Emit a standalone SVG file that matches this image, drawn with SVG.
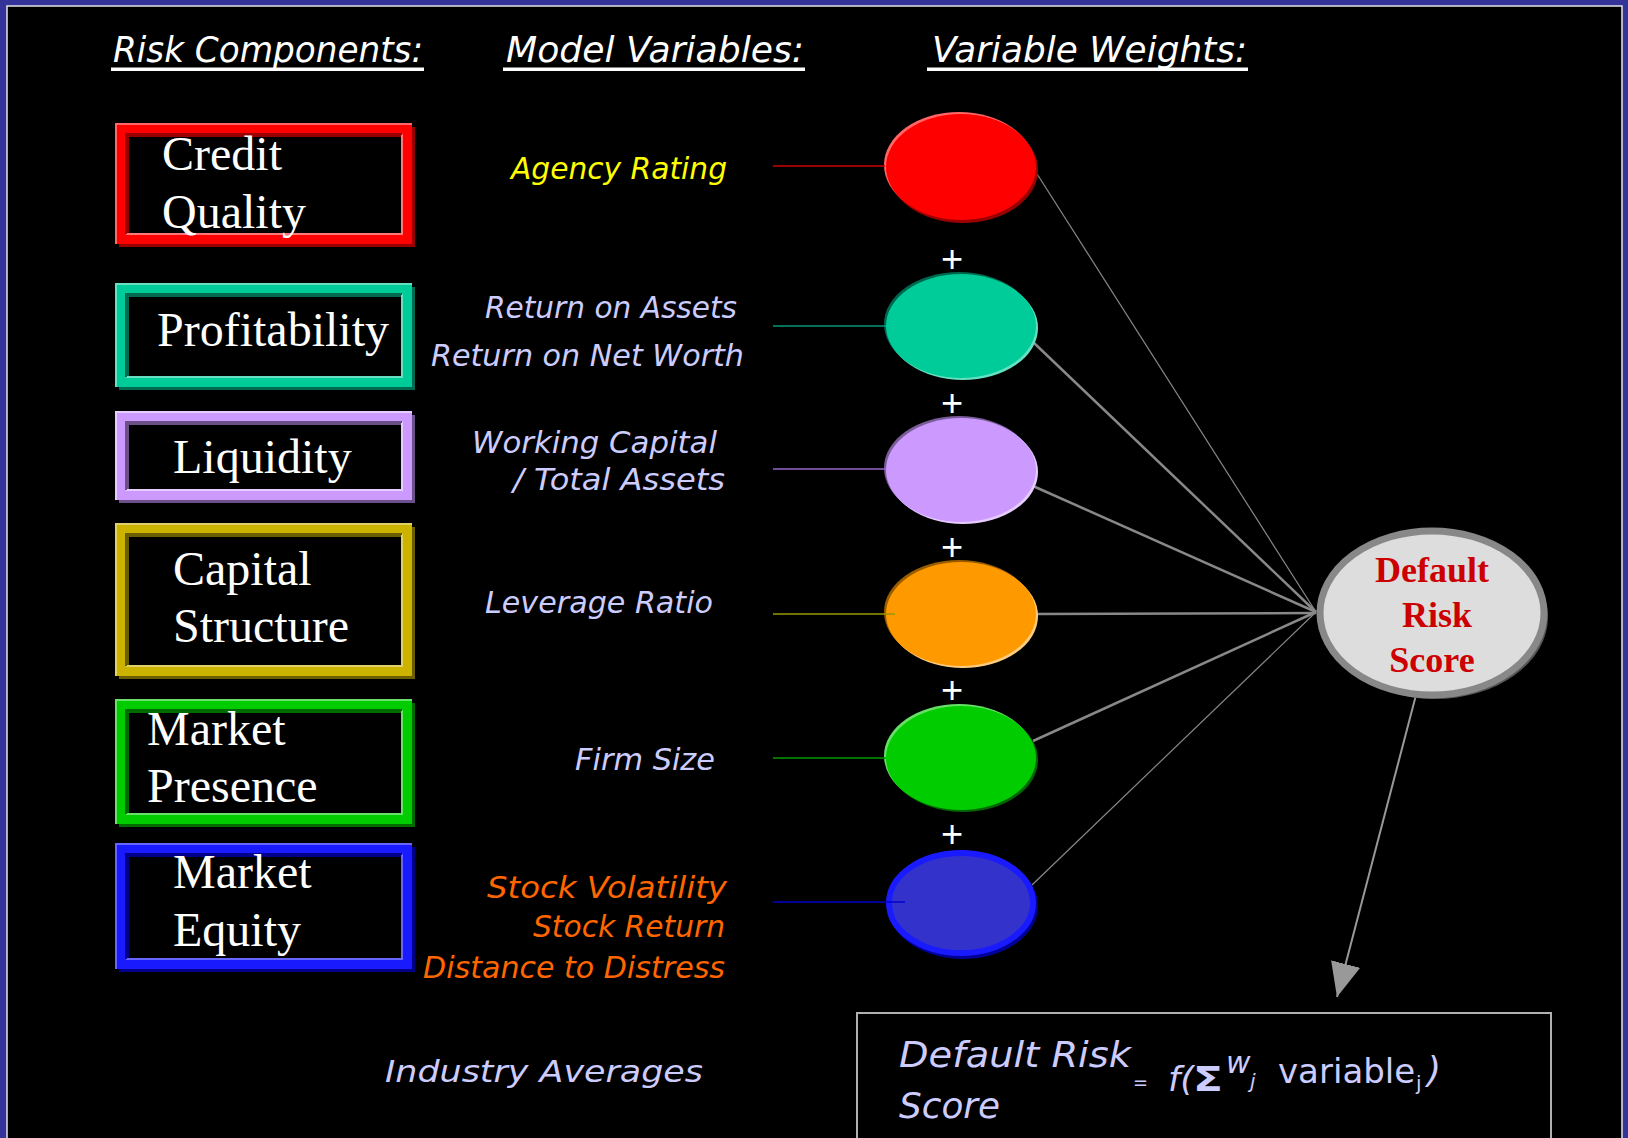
<svg xmlns="http://www.w3.org/2000/svg" width="1628" height="1138" viewBox="0 0 1628 1138">
  <defs>
    <style>
      .hdr { font-family: "DejaVu Sans", "Liberation Sans", sans-serif; font-style: italic; font-size: 36px; fill: #ffffff; }
      .var { font-family: "DejaVu Sans", "Liberation Sans", sans-serif; font-style: italic; font-size: 31px; }
      .lav { fill: #ccccff; }
      .yel { fill: #ffff00; }
      .org { fill: #ff6600; }
      .box { font-family: "Liberation Serif", "Times New Roman", serif; font-size: 48px; fill: #ffffff; }
      .frame { fill: none; stroke-width: 10; }
      .edge { fill: none; stroke-width: 2; }
      .plus { font-family: "Liberation Sans", Arial, sans-serif; font-size: 38px; fill: #ffffff; text-anchor: middle; }
      .feed { fill: none; stroke-width: 1.5; }
      .spoke { fill: none; stroke: #888888; }
      .score { font-family: "Liberation Serif", "Times New Roman", serif; font-weight: bold; font-size: 36px; fill: #cc0000; text-anchor: middle; }
      .fx { font-family: "DejaVu Sans", "Liberation Sans", sans-serif; fill: #ccccff; }
    </style>
    <marker id="arrow" markerUnits="userSpaceOnUse" markerWidth="34" markerHeight="30" viewBox="0 0 34 30" refX="34" refY="15" orient="auto">
      <path d="M0,0 L34,15 L0,30 Z" fill="#999999"/>
    </marker>
  </defs>

  <!-- slide frame -->
  <rect x="0" y="0" width="1628" height="1138" fill="#333399"/>
  <rect x="7" y="6" width="1615" height="1140" fill="#000000" stroke="#e6e6e6" stroke-width="1.5"/>

  <!-- column headings -->
  <g id="headings">
    <text class="hdr" x="113" y="62" textLength="310" lengthAdjust="spacingAndGlyphs">Risk Components:</text>
    <rect x="111" y="67.5" width="313" height="3.5" fill="#ffffff"/>
    <text class="hdr" x="506" y="62" textLength="298" lengthAdjust="spacingAndGlyphs">Model Variables:</text>
    <rect x="503" y="67.5" width="302" height="3.5" fill="#ffffff"/>
    <text class="hdr" x="932" y="62" textLength="315" lengthAdjust="spacingAndGlyphs">Variable Weights:</text>
    <rect x="927" y="67.5" width="321" height="3.5" fill="#ffffff"/>
  </g>

  <!-- risk component boxes -->
  <g id="box-credit-quality">
    <rect class="frame" x="124" y="132" width="286" height="110" stroke="#990000"/>
    <rect class="frame" x="121" y="129" width="286" height="110" stroke="#ff0000"/>
    <path class="edge" d="M116,244 V124 H412" stroke="#ff6666"/>
    <path class="edge" d="M126,234 H402 V134" stroke="#ff7777"/>
    <path class="edge" d="M126,234 V134 H402" stroke="#990000"/>
    <text class="box" x="162" y="170">Credit</text>
    <text class="box" x="162" y="228">Quality</text>
  </g>

  <g id="box-profitability">
    <rect class="frame" x="124" y="292" width="286" height="93" stroke="#006b50"/>
    <rect class="frame" x="121" y="289" width="286" height="93" stroke="#00cc99"/>
    <path class="edge" d="M116,387 V284 H412" stroke="#66e0c2"/>
    <path class="edge" d="M126,377 H402 V294" stroke="#66e0c2"/>
    <path class="edge" d="M126,377 V294 H402" stroke="#006b50"/>
    <text class="box" x="157" y="346">Profitability</text>
  </g>

  <g id="box-liquidity">
    <rect class="frame" x="124" y="420" width="286" height="78" stroke="#6b508a"/>
    <rect class="frame" x="121" y="417" width="286" height="78" stroke="#cc99ff"/>
    <path class="edge" d="M116,500 V412 H412" stroke="#e6ccff"/>
    <path class="edge" d="M126,490 H402 V422" stroke="#e6ccff"/>
    <path class="edge" d="M126,490 V422 H402" stroke="#6b508a"/>
    <text class="box" x="173" y="473">Liquidity</text>
  </g>

  <g id="box-capital-structure">
    <rect class="frame" x="124" y="532" width="286" height="142" stroke="#6b5e00"/>
    <rect class="frame" x="121" y="529" width="286" height="142" stroke="#ccb300"/>
    <path class="edge" d="M116,676 V524 H412" stroke="#e0d066"/>
    <path class="edge" d="M126,666 H402 V534" stroke="#e0d066"/>
    <path class="edge" d="M126,666 V534 H402" stroke="#6b5e00"/>
    <text class="box" x="173" y="585">Capital</text>
    <text class="box" x="173" y="642">Structure</text>
  </g>

  <g id="box-market-presence">
    <rect class="frame" x="124" y="708" width="286" height="114" stroke="#006b00"/>
    <rect class="frame" x="121" y="705" width="286" height="114" stroke="#00cc00"/>
    <path class="edge" d="M116,824 V700 H412" stroke="#66e066"/>
    <path class="edge" d="M126,814 H402 V710" stroke="#66e066"/>
    <path class="edge" d="M126,814 V710 H402" stroke="#006b00"/>
    <text class="box" x="147" y="745">Market</text>
    <text class="box" x="147" y="802">Presence</text>
  </g>

  <g id="box-market-equity">
    <rect class="frame" x="124" y="852" width="286" height="115" stroke="#00008a"/>
    <rect class="frame" x="121" y="849" width="286" height="115" stroke="#1a1aff"/>
    <path class="edge" d="M116,969 V844 H412" stroke="#6666ff"/>
    <path class="edge" d="M126,959 H402 V854" stroke="#6666ff"/>
    <path class="edge" d="M126,959 V854 H402" stroke="#00008a"/>
    <text class="box" x="173" y="888">Market</text>
    <text class="box" x="173" y="946">Equity</text>
  </g>

  <!-- model variable labels -->
  <g id="vars-credit">
    <text class="var yel" x="511" y="179" textLength="216" lengthAdjust="spacingAndGlyphs">Agency Rating</text>
  </g>
  <g id="vars-profitability">
    <text class="var lav" x="485" y="318" textLength="252" lengthAdjust="spacingAndGlyphs">Return on Assets</text>
    <text class="var lav" x="431" y="366" textLength="313" lengthAdjust="spacingAndGlyphs">Return on Net Worth</text>
  </g>
  <g id="vars-liquidity">
    <text class="var lav" x="472" y="453" textLength="245" lengthAdjust="spacingAndGlyphs">Working Capital</text>
    <text class="var lav" x="513" y="490" textLength="212" lengthAdjust="spacingAndGlyphs">/ Total Assets</text>
  </g>
  <g id="vars-capital">
    <text class="var lav" x="485" y="613" textLength="228" lengthAdjust="spacingAndGlyphs">Leverage Ratio</text>
  </g>
  <g id="vars-presence">
    <text class="var lav" x="575" y="770" textLength="140" lengthAdjust="spacingAndGlyphs">Firm Size</text>
  </g>
  <g id="vars-equity">
    <text class="var org" x="487" y="898" textLength="240" lengthAdjust="spacingAndGlyphs">Stock Volatility</text>
    <text class="var org" x="533" y="937" textLength="192" lengthAdjust="spacingAndGlyphs">Stock Return</text>
    <text class="var org" x="423" y="978" textLength="302" lengthAdjust="spacingAndGlyphs">Distance to Distress</text>
  </g>
  <g id="industry-averages">
    <text class="var lav" x="385" y="1082" font-size="33" textLength="318" lengthAdjust="spacingAndGlyphs">Industry Averages</text>
  </g>

  <!-- connectors -->
  <g id="connectors">
    <line class="spoke" x1="1032" y1="166" x2="1316" y2="612" stroke-width="1.2"/>
    <line class="spoke" x1="1033" y1="342" x2="1316" y2="612" stroke-width="2.5"/>
    <line class="spoke" x1="1033" y1="486" x2="1316" y2="612" stroke-width="2.5"/>
    <line class="spoke" x1="1033" y1="614" x2="1316" y2="613" stroke-width="2.5"/>
    <line class="spoke" x1="1033" y1="741" x2="1316" y2="612" stroke-width="2.5"/>
    <line class="spoke" x1="1032" y1="885" x2="1316" y2="612" stroke-width="1.2"/>
    <line x1="1416" y1="695" x2="1337" y2="997" stroke="#999999" stroke-width="2" marker-end="url(#arrow)"/>
  </g>

  <!-- weight nodes -->
  <g id="weight-credit">
    <ellipse cx="963" cy="170" rx="75" ry="53" fill="#990000"/>
    <ellipse cx="959" cy="165" rx="75" ry="53" fill="#ff6666"/>
    <ellipse cx="961" cy="167" rx="75" ry="53" fill="#ff0000"/>
  </g>
  <g id="weight-profitability">
    <ellipse cx="959" cy="324" rx="75" ry="52" fill="#00664d"/>
    <ellipse cx="963" cy="328" rx="75" ry="52" fill="#66e0c2"/>
    <ellipse cx="961" cy="326" rx="75" ry="52" fill="#00cc99"/>
  </g>
  <g id="weight-liquidity">
    <ellipse cx="959" cy="468" rx="75" ry="52" fill="#7a5c99"/>
    <ellipse cx="963" cy="472" rx="75" ry="52" fill="#e6ccff"/>
    <ellipse cx="961" cy="470" rx="75" ry="52" fill="#cc99ff"/>
  </g>
  <g id="weight-capital">
    <ellipse cx="959" cy="612" rx="75" ry="52" fill="#995c00"/>
    <ellipse cx="963" cy="616" rx="75" ry="52" fill="#ffcc80"/>
    <ellipse cx="961" cy="614" rx="75" ry="52" fill="#ff9900"/>
  </g>
  <g id="weight-presence">
    <ellipse cx="963" cy="760" rx="75" ry="52" fill="#006600"/>
    <ellipse cx="959" cy="756" rx="75" ry="52" fill="#66e066"/>
    <ellipse cx="961" cy="758" rx="75" ry="52" fill="#00cc00"/>
  </g>
  <g id="weight-equity">
    <ellipse cx="963" cy="906" rx="75" ry="53" fill="#000099"/>
    <ellipse cx="961" cy="903" rx="72" ry="50" fill="#3333cc" stroke="#1a1aff" stroke-width="6"/>
  </g>

  <!-- feeds from variables into weights -->
  <g id="feeds">
    <line class="feed" x1="773" y1="166" x2="885" y2="166" stroke="#cc0000"/>
    <line class="feed" x1="773" y1="326" x2="886" y2="326" stroke="#009977"/>
    <line class="feed" x1="773" y1="469" x2="886" y2="469" stroke="#9966cc"/>
    <line class="feed" x1="773" y1="614" x2="895" y2="614" stroke="#999900"/>
    <line class="feed" x1="773" y1="758" x2="886" y2="758" stroke="#009900"/>
    <line class="feed" x1="773" y1="902" x2="905" y2="902" stroke="#0000cc"/>
  </g>

  <!-- summation signs -->
  <g id="plus-signs">
    <text class="plus" x="952" y="272">+</text>
    <text class="plus" x="952" y="416">+</text>
    <text class="plus" x="952" y="560">+</text>
    <text class="plus" x="952" y="703">+</text>
    <text class="plus" x="952" y="847">+</text>
  </g>

  <!-- output node -->
  <g id="default-risk-score">
    <ellipse cx="1435" cy="617" rx="113" ry="82" fill="#555555"/>
    <ellipse cx="1432" cy="613" rx="112" ry="82" fill="#dddddd" stroke="#888888" stroke-width="7"/>
    <text class="score" x="1432" y="582">Default</text>
    <text class="score" x="1437" y="627">Risk</text>
    <text class="score" x="1432" y="672">Score</text>
  </g>

  <!-- scoring formula -->
  <g id="formula">
    <rect x="857" y="1013" width="694" height="160" fill="none" stroke="#b0b0b0" stroke-width="2"/>
    <text class="fx" font-style="italic" font-size="35" x="899" y="1067" textLength="232" lengthAdjust="spacingAndGlyphs">Default Risk</text>
    <text class="fx" font-style="italic" font-size="35" x="899" y="1118" textLength="101" lengthAdjust="spacingAndGlyphs">Score</text>
    <text class="fx" font-size="20" x="1133" y="1089" textLength="15" lengthAdjust="spacingAndGlyphs">=</text>
    <text class="fx" font-style="italic" font-size="34" x="1168" y="1091" textLength="26" lengthAdjust="spacingAndGlyphs">f(</text>
    <text class="fx" font-family="Liberation Serif, serif" font-weight="bold" font-size="34" x="1193" y="1091" textLength="30" lengthAdjust="spacingAndGlyphs">Σ</text>
    <text class="fx" font-style="italic"><tspan x="1226" y="1073" font-size="30">w</tspan><tspan x="1250" y="1088" font-size="20">j</tspan></text>
    <text class="fx" font-size="34"><tspan x="1278" y="1083">variable</tspan><tspan x="1416" y="1090" font-size="20">j</tspan></text>
    <text class="fx" font-style="italic" font-size="36" x="1427" y="1082">)</text>
  </g>
</svg>
